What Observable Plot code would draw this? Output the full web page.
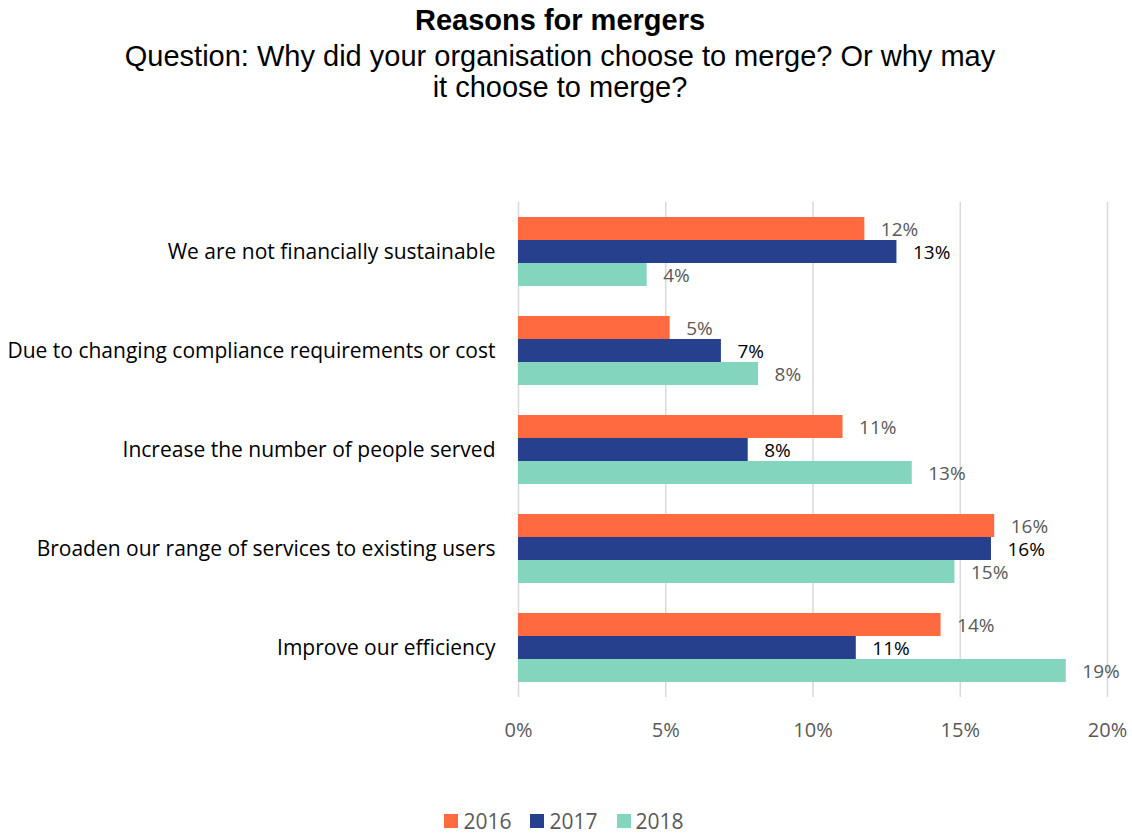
<!DOCTYPE html>
<html><head><meta charset="utf-8">
<script src="https://cdn.jsdelivr.net/npm/d3@7"></script>
<script src="https://cdn.jsdelivr.net/npm/@observablehq/plot@0.6"></script>
<style>
body{margin:0;background:#fff;width:1132px;height:833px;position:relative;overflow:hidden}
.ttl{position:absolute;left:0;width:1120px;text-align:center;font-family:"Liberation Sans",Arial,sans-serif;color:#000;font-size:29px;line-height:31px}
#t1{top:5px;font-weight:bold}
#t2{top:41px}
#chart{position:absolute;left:0;top:110px}
#legend{position:absolute;left:0;top:810px;width:1132px;display:flex;justify-content:center;gap:19px;font-family:"Open Sans",sans-serif;font-size:21px;color:#595959;padding-right:4px;box-sizing:border-box}
#legend span{display:flex;align-items:center;gap:5px;line-height:22px;height:22px}
#legend i{display:inline-block;width:14px;height:14px}
[aria-label="fy-axis tick label"] text, g[aria-label^="fy-axis"] text{font-size:21px;fill:#000}
</style></head>
<body>
<div class="ttl" id="t1">Reasons for mergers</div>
<div class="ttl" id="t2">Question: Why did your organisation choose to merge? Or why may<br>it choose to merge?</div>
<div id="chart"></div>
<div id="legend"></div>
<script>
const categories = [
  "We are not financially sustainable",
  "Due to changing compliance requirements or cost",
  "Increase the number of people served",
  "Broaden our range of services to existing users",
  "Improve our efficiency"
];
const years = ["2016", "2017", "2018"];
const v2016 = [11.76, 5.15, 11.02, 16.17, 14.35];
const v2017 = [12.85, 6.89, 7.80, 16.06, 11.47];
const v2018 = [4.37, 8.15, 13.37, 14.82, 18.60];
const colors = ["#FF6A40", "#26408E", "#83D6BD"];
const xTicks = [0, 5, 10, 15, 20];

const series = [v2016, v2017, v2018];
const data = categories.flatMap((c, i) => years.map((y, j) => ({category: c, year: y, value: series[j][i]})));

const chart = Plot.plot({
  width: 1132, height: 638,
  marginLeft: 518, marginRight: 25, marginTop: 90, marginBottom: 50,
  style: {fontFamily: "'Open Sans', sans-serif", fontSize: "20px", color: "#595959", background: "#fff", overflow: "visible"},
  facet: {data, y: "category"},
  fy: {domain: categories, padding: 0, label: null, axis: "left", tickSize: 0, tickPadding: 23},
  y: {domain: years, axis: null, paddingInner: 0, paddingOuter: 0.635},
  x: {domain: [0, 20], ticks: xTicks, tickFormat: d => d + "%", tickSize: 0, tickPadding: 25, label: null},
  color: {domain: years, range: colors},
  marks: [
    Plot.ruleX(xTicks, {stroke: "#d9d9d9", strokeWidth: 1.5}),
    Plot.barX(data, {x: "value", y: "year", fill: "year"}),
    Plot.text(data, {filter: d => d.year !== "2017", x: "value", y: "year", text: d => Math.round(d.value) + "%", dx: 16, dy: 1, textAnchor: "start", fill: "#595959", fontSize: 19}),
    Plot.text(data, {filter: d => d.year === "2017", x: "value", y: "year", text: d => Math.round(d.value) + "%", dx: 16, dy: 1, textAnchor: "start", fill: "#000", fontSize: 19})
  ]
});
document.getElementById("chart").appendChild(chart);

const legend = document.getElementById("legend");
years.forEach((y, i) => {
  const s = document.createElement("span");
  s.innerHTML = `<i style="background:${colors[i]}"></i>${y}`;
  legend.appendChild(s);
});
</script>
</body></html>
